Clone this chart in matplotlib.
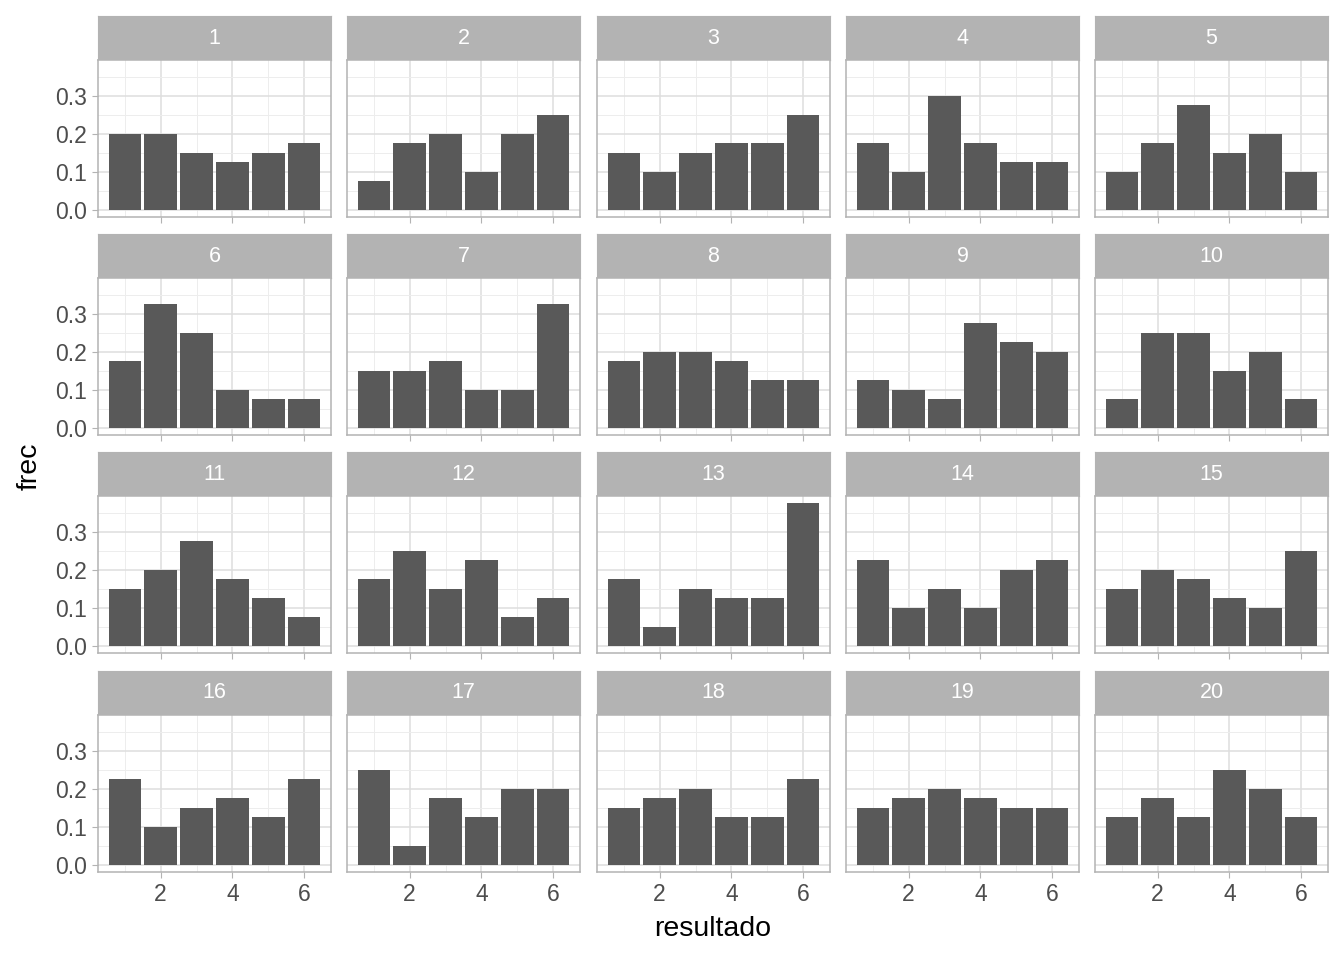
import numpy as np
import matplotlib.pyplot as plt
from matplotlib.ticker import FixedLocator

plt.rcParams['font.family'] = ['Liberation Sans', 'DejaVu Sans']

resultado = [1, 2, 3, 4, 5, 6]
paneles = list(range(1, 21))

frec_1 = [0.200, 0.200, 0.150, 0.125, 0.150, 0.175]
frec_2 = [0.075, 0.175, 0.200, 0.100, 0.200, 0.250]
frec_3 = [0.150, 0.100, 0.150, 0.175, 0.175, 0.250]
frec_4 = [0.175, 0.100, 0.300, 0.175, 0.125, 0.125]
frec_5 = [0.100, 0.175, 0.275, 0.150, 0.200, 0.100]
frec_6 = [0.175, 0.325, 0.250, 0.100, 0.075, 0.075]
frec_7 = [0.150, 0.150, 0.175, 0.100, 0.100, 0.325]
frec_8 = [0.175, 0.200, 0.200, 0.175, 0.125, 0.125]
frec_9 = [0.125, 0.100, 0.075, 0.275, 0.225, 0.200]
frec_10 = [0.075, 0.250, 0.250, 0.150, 0.200, 0.075]
frec_11 = [0.150, 0.200, 0.275, 0.175, 0.125, 0.075]
frec_12 = [0.175, 0.250, 0.150, 0.225, 0.075, 0.125]
frec_13 = [0.175, 0.050, 0.150, 0.125, 0.125, 0.375]
frec_14 = [0.225, 0.100, 0.150, 0.100, 0.200, 0.225]
frec_15 = [0.150, 0.200, 0.175, 0.125, 0.100, 0.250]
frec_16 = [0.225, 0.100, 0.150, 0.175, 0.125, 0.225]
frec_17 = [0.250, 0.050, 0.175, 0.125, 0.200, 0.200]
frec_18 = [0.150, 0.175, 0.200, 0.125, 0.125, 0.225]
frec_19 = [0.150, 0.175, 0.200, 0.175, 0.150, 0.150]
frec_20 = [0.125, 0.175, 0.125, 0.250, 0.200, 0.125]

frecs = [frec_1, frec_2, frec_3, frec_4, frec_5, frec_6, frec_7, frec_8, frec_9, frec_10,
         frec_11, frec_12, frec_13, frec_14, frec_15, frec_16, frec_17, frec_18, frec_19, frec_20]

W, H = 1344, 960
fig = plt.figure(figsize=(W / 100, H / 100), dpi=100)

col_x = [98, 347, 597, 846, 1095]
pw = 233
strip_top = [16, 234, 452, 671]
sh = 44
ph = 157

ymax = max(max(f) for f in frecs)
for i, (p, f) in enumerate(zip(paneles, frecs)):
    r, c = divmod(i, 5)
    x0 = col_x[c]
    st = strip_top[r]
    # strip
    sax = fig.add_axes([x0 / W, 1 - (st + sh) / H, pw / W, sh / H])
    sax.set_facecolor('#B3B3B3')
    sax.set_xticks([]); sax.set_yticks([])
    for s in sax.spines.values():
        s.set_color('#B3B3B3')
    sax.text(0.5, 0.5, str(p), color='white', fontsize=15.5, ha='center', va='center',
             transform=sax.transAxes)
    # panel
    ax = fig.add_axes([x0 / W, 1 - (st + sh + ph) / H, pw / W, ph / H])
    ax.bar(resultado, f, width=0.9, color='#595959', zorder=3)
    ax.set_xlim(0.55 - 0.295, 6.45 + 0.295)
    ax.set_ylim(-0.05 * ymax, ymax * 1.05)
    ax.xaxis.set_major_locator(FixedLocator([2, 4, 6]))
    ax.xaxis.set_minor_locator(FixedLocator([1, 3, 5]))
    ax.yaxis.set_major_locator(FixedLocator([0.0, 0.1, 0.2, 0.3]))
    ax.yaxis.set_minor_locator(FixedLocator([0.05, 0.15, 0.25, 0.35]))
    ax.grid(which='major', color='#DEDEDE', linewidth=1.1, zorder=0)
    ax.grid(which='minor', color='#EDEDED', linewidth=0.7, zorder=0)
    ax.set_axisbelow(True)
    for s in ax.spines.values():
        s.set_color('#B3B3B3')
        s.set_linewidth(1.1)
    ax.tick_params(which='major', color='#B3B3B3', length=4.3, labelcolor='#4D4D4D',
                   labelsize=16.5, pad=3.5)
    ax.tick_params(which='minor', length=0)
    if c == 0:
        ax.set_yticklabels(['0.0', '0.1', '0.2', '0.3'])
    else:
        ax.tick_params(axis='y', which='major', length=0, labelleft=False)
    if r == 3:
        ax.set_xticklabels(['2', '4', '6'])
    else:
        ax.tick_params(axis='x', which='major', labelbottom=False)

fig.text((98 + 1328) / 2 / W, 1 - 929 / H, 'resultado', fontsize=20.5, ha='center', va='center')
fig.text(30 / W, 1 - 466 / H, 'frec', fontsize=20.5, ha='center', va='center', rotation=90)

fig.savefig('out.png', dpi=100)
